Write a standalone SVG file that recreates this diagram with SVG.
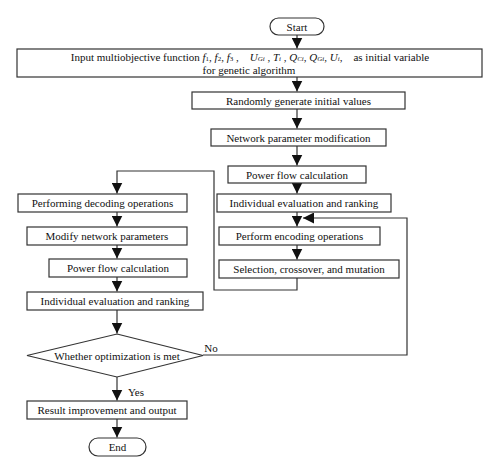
<svg xmlns="http://www.w3.org/2000/svg" width="500" height="474" viewBox="0 0 500 474">
<defs>
<style>
.box{fill:#fff;stroke:#333;stroke-width:1.2}
.t{font-family:"Liberation Serif","Times New Roman",serif;font-size:11px;fill:#111;text-anchor:middle;dominant-baseline:central}
.i{font-style:italic}
.sub{font-size:7px}
.c{fill:none;stroke:#333;stroke-width:1.2}
</style>
<marker id="ah" viewBox="0 0 10 10" refX="10" refY="5" markerWidth="11" markerHeight="11" markerUnits="userSpaceOnUse" orient="auto">
<path d="M0,0 L10,5 L0,10 Z" fill="#111"/>
</marker>
</defs>
<rect width="500" height="474" fill="#fff"/>
<g id="connectors">
<path class="c" d="M297,35 V48.5" marker-end="url(#ah)"/>
<path class="c" d="M297,77 V91.5" marker-end="url(#ah)"/>
<path class="c" d="M297,109 V128.5" marker-end="url(#ah)"/>
<path class="c" d="M297,146 V165.5" marker-end="url(#ah)"/>
<path class="c" d="M297,183 V193.5" marker-end="url(#ah)"/>
<path class="c" d="M297,212 V226.5" marker-end="url(#ah)"/>
<path class="c" d="M297,245 V259.5" marker-end="url(#ah)"/>
<path class="c" d="M297,278 V290 H214 V171 H117 V193.5" marker-end="url(#ah)"/>
<path class="c" d="M117,212 V226.5" marker-end="url(#ah)"/>
<path class="c" d="M117,245 V258.5" marker-end="url(#ah)"/>
<path class="c" d="M117,277 V291.5" marker-end="url(#ah)"/>
<path class="c" d="M117,310 V333.5" marker-end="url(#ah)"/>
<path class="c" d="M203,355 H407 V218 H303" marker-end="url(#ah)"/>
<path class="c" d="M117,377 V400.5" marker-end="url(#ah)"/>
<path class="c" d="M117,419 V437.5" marker-end="url(#ah)"/>
<text class="t" x="211" y="348">No</text>
<text class="t" x="136" y="392">Yes</text>
</g>
<g id="start">
<rect class="box" x="270" y="18" width="54" height="17" rx="8.5"/>
<text class="t" x="297" y="26.5">Start</text>
</g>
<g id="input">
<rect class="box" x="17" y="49" width="465" height="28"/>
<text class="t" x="250" y="56.5" xml:space="preserve">Input multiobjective function <tspan class="i">f</tspan><tspan class="sub" dy="2">1</tspan><tspan dy="-2">, </tspan><tspan class="i">f</tspan><tspan class="sub" dy="2">2</tspan><tspan dy="-2">, </tspan><tspan class="i">f</tspan><tspan class="sub" dy="2">3</tspan><tspan dy="-2"> ,    </tspan><tspan class="i">U</tspan><tspan class="sub i" dy="2">Gi</tspan><tspan dy="-2"> , </tspan><tspan class="i">T</tspan><tspan class="sub i" dy="2">i</tspan><tspan dy="-2"> , </tspan><tspan class="i">Q</tspan><tspan class="sub i" dy="2">Ci</tspan><tspan dy="-2">, </tspan><tspan class="i">Q</tspan><tspan class="sub i" dy="2">Gi</tspan><tspan dy="-2">, </tspan><tspan class="i">U</tspan><tspan class="sub i" dy="2">i</tspan><tspan dy="-2">,    as initial variable</tspan></text>
<text class="t" x="249" y="69.5">for genetic algorithm</text>
</g>
<g id="random">
<rect class="box" x="192" y="92" width="213" height="17"/>
<text class="t" x="298.5" y="100.5">Randomly generate initial values</text>
</g>
<g id="netmod">
<rect class="box" x="211" y="129" width="175" height="17"/>
<text class="t" x="298.5" y="137.5">Network parameter modification</text>
</g>
<g id="pf-right">
<rect class="box" x="228" y="166" width="138" height="17"/>
<text class="t" x="297" y="174.5">Power flow calculation</text>
</g>
<g id="eval-right">
<rect class="box" x="217" y="194" width="174" height="18"/>
<text class="t" x="304" y="203">Individual evaluation and ranking</text>
</g>
<g id="encode">
<rect class="box" x="219" y="227" width="161" height="18"/>
<text class="t" x="299.5" y="236">Perform encoding operations</text>
</g>
<g id="select">
<rect class="box" x="219" y="260" width="180" height="18"/>
<text class="t" x="309" y="269">Selection, crossover, and mutation</text>
</g>
<g id="decode">
<rect class="box" x="18" y="194" width="169" height="18"/>
<text class="t" x="102.5" y="203">Performing decoding operations</text>
</g>
<g id="modify">
<rect class="box" x="27" y="227" width="160" height="18"/>
<text class="t" x="107" y="236">Modify network parameters</text>
</g>
<g id="pf-left">
<rect class="box" x="49" y="259" width="138" height="18"/>
<text class="t" x="118" y="268">Power flow calculation</text>
</g>
<g id="eval-left">
<rect class="box" x="27" y="292" width="176" height="18"/>
<text class="t" x="115" y="301">Individual evaluation and ranking</text>
</g>
<g id="decision">
<polygon class="box" points="117,334 203,355.5 117,377 27,355.5"/>
<text class="t" x="117" y="355.5">Whether optimization is met</text>
</g>
<g id="result">
<rect class="box" x="27" y="401" width="160" height="18"/>
<text class="t" x="107" y="410">Result improvement and output</text>
</g>
<g id="end">
<rect class="box" x="89" y="438" width="57" height="18" rx="9"/>
<text class="t" x="117.5" y="447">End</text>
</g>
</svg>
